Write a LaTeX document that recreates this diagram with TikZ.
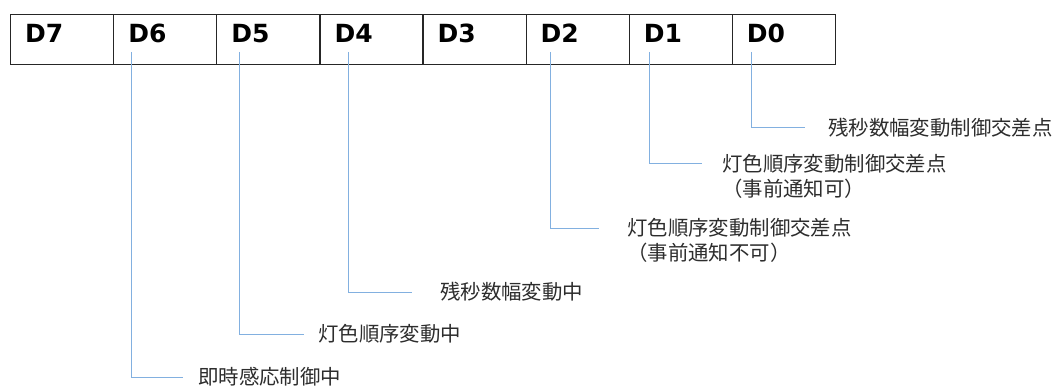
\documentclass[tikz,border=0pt]{standalone}
\usepackage{fontspec}
\newfontfamily\jpfont{Noto Sans CJK JP}
\newfontfamily\bitfont{DejaVu Sans Bold}
\usetikzlibrary{positioning}
\definecolor{linkblue}{RGB}{130,176,224}
\definecolor{textgray}{RGB}{45,45,45}

\begin{document}
\begin{tikzpicture}[x=1pt,y=-1pt,
  cell/.style={draw=black!85, line width=1.2pt, minimum width=103.1pt, minimum height=50pt, inner sep=0pt, anchor=north west},
  bit/.style={font=\bitfont\fontsize{25}{25}\selectfont, inner sep=0pt, anchor=base west},
  note/.style={font=\jpfont\fontsize{20.4}{25}\selectfont, text=textgray, inner sep=0pt, anchor=west},
  conn/.style={draw=linkblue, line width=1pt}]
\useasboundingbox (0,0) rectangle (1054,390);

% register cells
\foreach \b [count=\i from 0] in {7,6,...,0}{
  \node[cell] (c\b) at (10+103.1*\i,14) {};
  \path (c\b.north west) ++(15,29) node[bit] (d\b) {D\b};
}

% notes
\node[note] (n0) at (828,128) {残秒数幅変動制御交差点};
\node[note] (n1) at (722,164) {灯色順序変動制御交差点};
\node[note] (n1b) at (722,189) {（事前通知可）};
\node[note] (n2) at (627,228) {灯色順序変動制御交差点};
\node[note] (n2b) at (627,253) {（事前通知不可）};
\node[note] (n4) at (440,292) {残秒数幅変動中};
\node[note] (n5) at (318,334) {灯色順序変動中};
\node[note] (n6) at (198,377) {即時感応制御中};

% connectors
\foreach \b/\dx/\gap in {0/5/23, 1/6/20, 2/10/28, 4/14/28, 5/8/14, 6/3/15}
  \draw[conn] ([xshift=\dx pt, yshift=-9pt]d\b.base west) |- ([xshift=-\gap pt]n\b.west);
\end{tikzpicture}
\end{document}
